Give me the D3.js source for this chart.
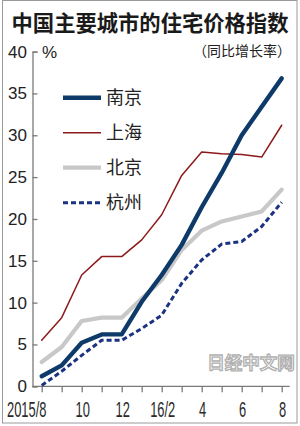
<!DOCTYPE html>
<html>
<head>
<meta charset="utf-8">
<script src="https://cdn.jsdelivr.net/npm/d3@7"></script>
<style>
  body { margin: 0; background: #fff; }
  svg { display: block; }
</style>
</head>
<body>
<div id="chart"></div>
<script>
// months since 2015/8
let months = d3.range(13);
let monthLabels = ["2015/8", "", "10", "", "12", "", "16/2", "", "4", "", "6", "", "8"];
let yTicks = [0, 5, 10, 15, 20, 25, 30, 35, 40];

let cities = ["南京", "上海", "北京", "杭州"];
let nanjing  = [1.2, 2.5, 5.2, 6.2, 6.2, 10.1, 13.3, 16.9, 21.4, 25.5, 30.0, 33.4, 36.8];
let shanghai = [5.5, 8.2, 13.3, 15.5, 15.5, 17.5, 20.5, 25.2, 28.0, 27.8, 27.7, 27.4, 31.2];
let beijing  = [2.9, 4.7, 7.8, 8.2, 8.2, 10.5, 12.7, 16.3, 18.6, 19.7, 20.3, 20.9, 23.5];
let hangzhou = [0.1, 1.8, 3.7, 5.5, 5.5, 6.9, 8.5, 12.3, 15.1, 17.0, 17.3, 19.1, 22.0];

function init() {
    let width = 300, height = 426;

    let svg = d3.select("#chart")
        .append("svg")
        .attr("width", width)
        .attr("height", height);

    // frame
    svg.append("rect")
        .attr("x", 2.5).attr("y", 0.5)
        .attr("width", 294.5).attr("height", 422.5)
        .attr("fill", "none")
        .attr("stroke", "#9a9a9a")
        .attr("stroke-width", 1);

    let x = d3.scaleLinear().domain([0, 12]).range([41.7, 281.7]);
    let y = d3.scaleLinear().domain([0, 40]).range([386.3, 51.6]);

    let numFont = "'Liberation Sans', Arial, sans-serif";
    let cjkFont = "'Noto Sans CJK SC', 'Noto Sans', sans-serif";

    // title
    svg.append("text")
        .attr("x", 150).attr("y", 30.5)
        .attr("text-anchor", "middle")
        .attr("font-family", cjkFont)
        .attr("font-weight", "bold")
        .attr("font-size", "21.3px")
        .attr("fill", "#1a1a1a")
        .text("中国主要城市的住宅价格指数");

    svg.append("text")
        .attr("x", 291).attr("y", 56)
        .attr("text-anchor", "end")
        .attr("font-family", cjkFont)
        .attr("font-size", "14px")
        .attr("fill", "#222")
        .text("（同比增长率）");

    // y axis
    let gy = svg.append("g")
        .attr("transform", "translate(32.5,0)")
        .call(d3.axisLeft(y).tickValues(yTicks).tickSize(-5).tickPadding(5.5));
    gy.selectAll("path, line").attr("stroke", "#7a7a7a").attr("stroke-width", 1.3);
    gy.selectAll("text")
        .attr("font-family", numFont)
        .attr("font-size", "17px")
        .attr("fill", "#222");

    svg.append("text")
        .attr("x", 42).attr("y", y(40) + 6)
        .attr("font-family", numFont)
        .attr("font-size", "17px")
        .attr("fill", "#222")
        .text("%");

    // x axis
    let gx = svg.append("g")
        .attr("transform", "translate(0," + y(0) + ")")
        .call(d3.axisBottom(x).tickValues(months).tickSize(6).tickFormat(""));
    gx.select(".domain").remove();
    gx.selectAll("line").attr("stroke", "#7a7a7a").attr("stroke-width", 1.3);
    gx.append("line")
        .attr("x1", 32.5).attr("x2", x(12.4))
        .attr("stroke", "#7a7a7a").attr("stroke-width", 1.3);

    svg.append("g")
        .selectAll("text")
        .data(months.filter(m => monthLabels[m] !== ""))
        .enter()
        .append("text")
        .attr("transform", function (m) {
            let px = m === 0 ? x(m) - 15 : x(m) + 1;
            return "translate(" + px + ",416.5) scale(0.6,1)";
        })
        .attr("text-anchor", "middle")
        .attr("font-family", "'Liberation Sans Narrow', 'Liberation Sans', sans-serif")
        .attr("font-size", "21.5px")
        .attr("fill", "#2a2a2a")
        .text(m => monthLabels[m]);

    // watermark
    svg.append("text")
        .attr("x", 251).attr("y", 369)
        .attr("text-anchor", "middle")
        .attr("font-family", cjkFont)
        .attr("font-weight", "bold")
        .attr("font-size", "17.5px")
        .attr("fill", "#fff")
        .attr("stroke", "#b0b0b0")
        .attr("stroke-width", 1.3)
        .text("日经中文网");

    let series = [
        {name: cities[2], values: beijing, color: "#c8c8c8", width: 4.2, dash: null},
        {name: cities[1], values: shanghai, color: "#8c1a1a", width: 1.5, dash: null},
        {name: cities[3], values: hangzhou, color: "#1b3282", width: 3, dash: "5,3"},
        {name: cities[0], values: nanjing, color: "#0e3a6a", width: 4.4, dash: null}
    ];

    let line = d3.line()
        .x((d, i) => x(i))
        .y(d => y(d));

    svg.append("g")
        .selectAll("path")
        .data(series)
        .enter()
        .append("path")
        .attr("d", s => line(s.values))
        .attr("fill", "none")
        .attr("stroke", s => s.color)
        .attr("stroke-width", s => s.width)
        .attr("stroke-dasharray", s => s.dash)
        .attr("stroke-linejoin", "round")
        .attr("stroke-linecap", s => s.dash ? "butt" : "round");

    // legend
    let legendOrder = [3, 1, 0, 2];
    let legend = svg.append("g")
        .selectAll("g")
        .data(legendOrder.map(k => series[k]))
        .enter()
        .append("g")
        .attr("transform", (s, i) => "translate(63," + (97.7 + i * 35) + ")");

    legend.append("line")
        .attr("x1", 0).attr("x2", 38)
        .attr("stroke", s => s.color)
        .attr("stroke-width", s => s.width)
        .attr("stroke-dasharray", s => s.dash);

    legend.append("text")
        .attr("x", 43).attr("y", 6.5)
        .attr("font-family", cjkFont)
        .attr("font-size", "18px")
        .attr("fill", "#222")
        .text(s => s.name);
}
init();
</script>
</body>
</html>
